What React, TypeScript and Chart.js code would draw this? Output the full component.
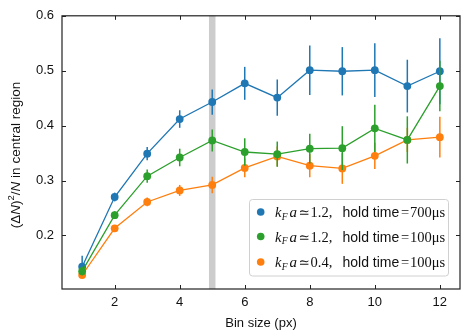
import React, { useEffect, useRef } from "react";
import { Chart, registerables } from "chart.js";

Chart.register(...registerables);

const binSizes = [1, 2, 3, 4, 5, 6, 7, 8, 9, 10, 11, 12];
const blueVals = [0.143, 0.270, 0.349, 0.412, 0.443, 0.477, 0.451, 0.501, 0.499, 0.501, 0.472, 0.499];
const blueErr = [0.02, 0.008, 0.012, 0.016, 0.023, 0.030, 0.033, 0.045, 0.044, 0.049, 0.048, 0.060];
const greenVals = [0.135, 0.237, 0.308, 0.342, 0.373, 0.352, 0.348, 0.358, 0.359, 0.395, 0.374, 0.472];
const greenErr = [0.008, 0.007, 0.012, 0.016, 0.020, 0.025, 0.023, 0.027, 0.040, 0.043, 0.043, 0.046];
const orangeVals = [0.128, 0.213, 0.261, 0.282, 0.292, 0.323, 0.344, 0.327, 0.322, 0.345, 0.374, 0.379];
const orangeErr = [0.005, 0.006, 0.008, 0.010, 0.015, 0.017, 0.018, 0.021, 0.028, 0.024, 0.022, 0.037];
const xTicks = [2, 4, 6, 8, 10, 12];
const yTicks = [0.2, 0.3, 0.4, 0.5, 0.6];
const legendK = ["1.2", "1.2", "0.4"];
const legendHold = ["700", "100", "100"];
const bandX = 5;

const BLUE = "#1f77b4";
const GREEN = "#2ca02c";
const ORANGE = "#ff7f0e";
const SANS = "'Liberation Sans', Arial, sans-serif";
const MSERIF = "'Liberation Serif', serif";

const errs = [blueErr, greenErr, orangeErr];
const colors = [BLUE, GREEN, ORANGE];

const customPlugin = {
  id: "custom",
  beforeDatasetsDraw(chart: any) {
    const { ctx, chartArea: ca, scales } = chart;
    const x0 = scales.x.getPixelForValue(bandX - 0.1);
    const x1 = scales.x.getPixelForValue(bandX + 0.1);
    ctx.save();
    ctx.fillStyle = "#cccccc";
    ctx.fillRect(x0, ca.top, x1 - x0, ca.bottom - ca.top);
    ctx.restore();
  },
  beforeDatasetDraw(chart: any, args: any) {
    const i = args.index;
    const { ctx, scales } = chart;
    const ds = chart.data.datasets[i];
    ctx.save();
    ctx.strokeStyle = colors[i];
    ctx.lineWidth = 1.5;
    ds.data.forEach((p: any, j: number) => {
      const px = scales.x.getPixelForValue(p.x);
      const yTop = scales.y.getPixelForValue(p.y + errs[i][j]);
      const yBot = scales.y.getPixelForValue(p.y - errs[i][j]);
      ctx.beginPath();
      ctx.moveTo(px, yTop);
      ctx.lineTo(px, yBot);
      ctx.stroke();
    });
    ctx.restore();
  },
  afterDraw(chart: any) {
    const { ctx, chartArea: ca, scales } = chart;
    ctx.save();
    ctx.strokeStyle = "#222";
    ctx.lineWidth = 1.2;
    ctx.strokeRect(ca.left, ca.top, ca.right - ca.left, ca.bottom - ca.top);
    ctx.lineWidth = 1;
    const tl = 4;
    xTicks.forEach((v) => {
      const px = Math.round(scales.x.getPixelForValue(v)) + 0.5;
      ctx.beginPath();
      ctx.moveTo(px, ca.bottom);
      ctx.lineTo(px, ca.bottom - tl);
      ctx.moveTo(px, ca.top);
      ctx.lineTo(px, ca.top + tl);
      ctx.stroke();
    });
    yTicks.forEach((v) => {
      const py = Math.round(scales.y.getPixelForValue(v)) + 0.5;
      ctx.beginPath();
      ctx.moveTo(ca.left, py);
      ctx.lineTo(ca.left + tl, py);
      ctx.moveTo(ca.right, py);
      ctx.lineTo(ca.right - tl, py);
      ctx.stroke();
    });

    ctx.fillStyle = "#111";
    ctx.font = `13px ${SANS}`;
    ctx.textAlign = "center";
    ctx.textBaseline = "middle";
    ctx.fillText("Bin size (px)", (ca.left + ca.right) / 2, 323);

    ctx.save();
    ctx.translate(15, 155);
    ctx.rotate(-Math.PI / 2);
    ctx.textAlign = "left";
    ctx.textBaseline = "alphabetic";
    const parts: [string, string, number][] = [
      ["(\u0394", `13.5px ${SANS}`, 0],
      ["N", `italic 13.5px ${SANS}`, 0],
      [")", `13.5px ${SANS}`, 0],
      ["2", `9.5px ${SANS}`, -6],
      ["/", `13.5px ${SANS}`, 0],
      ["N", `italic 13.5px ${SANS}`, 0],
      [" in central region", `13.5px ${SANS}`, 0],
    ];
    let tw = 0;
    parts.forEach(([t, f]) => {
      ctx.font = f;
      tw += ctx.measureText(t).width;
    });
    let cx = -tw / 2;
    parts.forEach(([t, f, dy]) => {
      ctx.font = f;
      ctx.fillText(t, cx, 5 + dy);
      cx += ctx.measureText(t).width;
    });
    ctx.restore();

    const bx = 249.5, by = 199.5, bw = 199, bh = 76.5, r = 3;
    ctx.beginPath();
    ctx.moveTo(bx + r, by);
    ctx.lineTo(bx + bw - r, by);
    ctx.quadraticCurveTo(bx + bw, by, bx + bw, by + r);
    ctx.lineTo(bx + bw, by + bh - r);
    ctx.quadraticCurveTo(bx + bw, by + bh, bx + bw - r, by + bh);
    ctx.lineTo(bx + r, by + bh);
    ctx.quadraticCurveTo(bx, by + bh, bx, by + bh - r);
    ctx.lineTo(bx, by + r);
    ctx.quadraticCurveTo(bx, by, bx + r, by);
    ctx.closePath();
    ctx.fillStyle = "rgba(255,255,255,0.8)";
    ctx.fill();
    ctx.strokeStyle = "#d0d0d0";
    ctx.lineWidth = 1;
    ctx.stroke();

    const rowsY = [212, 236.5, 262];
    rowsY.forEach((ry, i) => {
      ctx.fillStyle = colors[i];
      ctx.beginPath();
      ctx.arc(260.7, ry, 3.8, 0, Math.PI * 2);
      ctx.fill();
      ctx.fillStyle = "#111";
      ctx.textBaseline = "alphabetic";
      ctx.textAlign = "left";
      const base = ry + 5;
      ctx.font = `italic 14.5px ${MSERIF}`;
      ctx.fillText("k", 275, base);
      ctx.font = `italic 9.5px ${MSERIF}`;
      ctx.fillText("F", 281.8, base + 2.5);
      ctx.font = `italic 15px ${MSERIF}`;
      ctx.fillText("a", 289.5, base);
      ctx.font = `13.5px 'DejaVu Serif', serif`;
      ctx.fillText("\u2243", 298.5, base);
      ctx.font = `14.5px ${MSERIF}`;
      ctx.fillText(legendK[i] + ",", 310.5, base);
      ctx.font = `14px ${SANS}`;
      ctx.fillText("hold time", 342.5, base);
      ctx.font = `14.5px ${MSERIF}`;
      ctx.fillText("=", 401, base);
      ctx.fillText(legendHold[i] + "\u03bcs", 410, base);
    });
    ctx.restore();
  },
};

export default function App() {
  const ref = useRef<HTMLCanvasElement | null>(null);
  useEffect(() => {
    const mk = (vals: number[]) => vals.map((v, i) => ({ x: binSizes[i], y: v }));
    const dsBase = (label: string, vals: number[], color: string, order: number) => ({
      label,
      data: mk(vals),
      borderColor: color,
      backgroundColor: color,
      pointBackgroundColor: color,
      pointBorderColor: color,
      pointRadius: 3.9,
      pointBorderWidth: 0,
      borderWidth: 1.3,
      tension: 0,
      order,
    });
    const chart = new Chart(ref.current as HTMLCanvasElement, {
      type: "line",
      data: {
        datasets: [
          dsBase("blue", blueVals, BLUE, 2),
          dsBase("green", greenVals, GREEN, 0),
          dsBase("orange", orangeVals, ORANGE, 1),
        ],
      },
      options: {
        animation: false,
        responsive: false,
        devicePixelRatio: 1,
        layout: { padding: { top: 11, right: 8, left: 0, bottom: 0 } },
        plugins: { legend: { display: false }, tooltip: { enabled: false } },
        scales: {
          x: {
            type: "linear",
            min: 0.38,
            max: 12.62,
            afterBuildTicks: (s: any) => {
              s.ticks = xTicks.map((v) => ({ value: v }));
            },
            afterFit: (s: any) => {
              s.height = 45;
            },
            grid: { display: false, drawTicks: false },
            border: { display: false },
            ticks: {
              color: "#111",
              font: { family: SANS, size: 13 },
              padding: 6,
              maxRotation: 0,
              autoSkip: false,
            },
          },
          y: {
            type: "linear",
            min: 0.1025,
            max: 0.6,
            afterBuildTicks: (s: any) => {
              s.ticks = yTicks.map((v) => ({ value: v }));
            },
            afterFit: (s: any) => {
              s.width = 62;
            },
            grid: { display: false, drawTicks: false },
            border: { display: false },
            ticks: {
              color: "#111",
              font: { family: SANS, size: 13 },
              padding: 8,
              autoSkip: false,
              callback: (v: any) => Number(v).toFixed(1),
            },
          },
        },
      },
      plugins: [customPlugin],
    } as any);
    return () => chart.destroy();
  }, []);
  return (
    <div style={{ position: "fixed", left: 0, top: 0, width: 468, height: 334, background: "#fff" }}>
      <canvas ref={ref} width={468} height={334} style={{ width: 468, height: 334 }} />
    </div>
  );
}
